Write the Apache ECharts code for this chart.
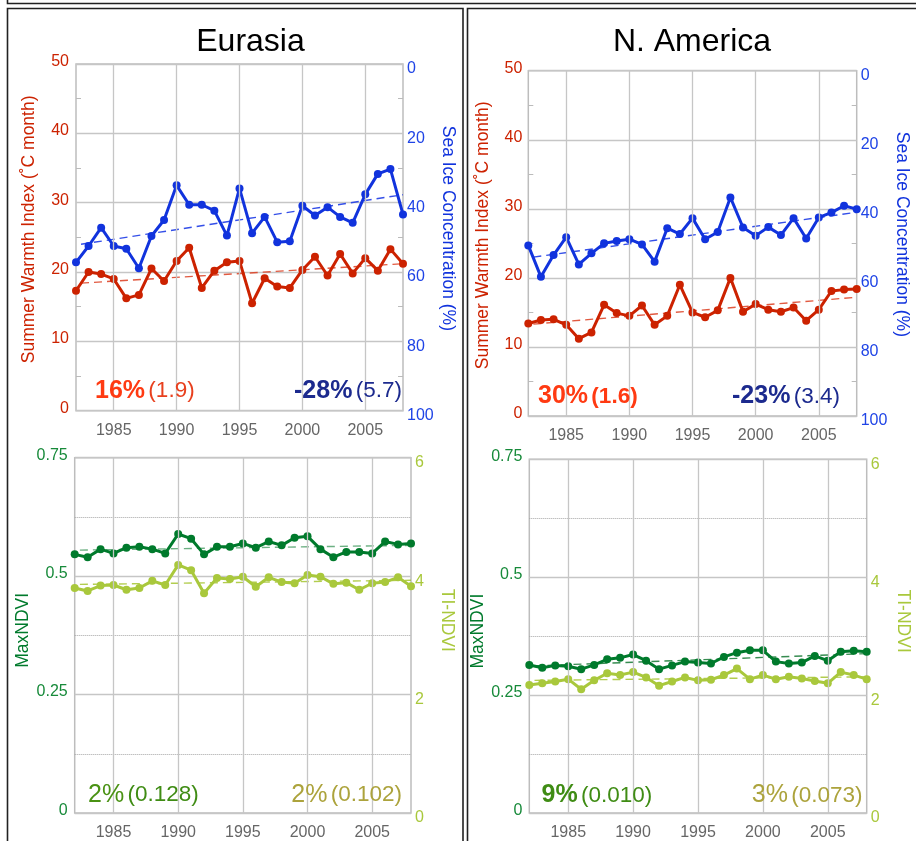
<!DOCTYPE html>
<html>
<head>
<meta charset="utf-8">
<script src="https://cdn.jsdelivr.net/npm/echarts@6/dist/echarts.min.js"></script>
<style>
  html, body { margin: 0; padding: 0; background: #fff; }
  #chart { width: 916px; height: 841px; }
</style>
</head>
<body>
<div id="chart"></div>
<script>
// Years covered by every series
const years = [1982, 1983, 1984, 1985, 1986, 1987, 1988, 1989, 1990, 1991, 1992, 1993, 1994,
               1995, 1996, 1997, 1998, 1999, 2000, 2001, 2002, 2003, 2004, 2005, 2006, 2007, 2008];
// Labelled years / vertical grid lines
const yearLabels = [1985, 1990, 1995, 2000, 2005];

// Summer Warmth Index (°C month)
const euSwi = [17.3, 20.0, 19.7, 19.0, 16.2, 16.7, 20.5, 18.7, 21.6, 23.5, 17.7, 20.2, 21.4,
               21.6, 15.5, 19.1, 17.9, 17.7, 20.3, 22.2, 19.5, 22.6, 19.8, 22.0, 20.2, 23.3, 21.2];
const naSwi = [13.4, 13.9, 14.0, 13.2, 11.2, 12.1, 16.1, 14.9, 14.5, 16.0, 13.2, 14.5, 19.0,
               15.0, 14.3, 15.3, 20.0, 15.1, 16.2, 15.4, 15.1, 15.7, 13.8, 15.4, 18.1, 18.3, 18.4];
// Sea ice concentration (%)
const euIce = [57.2, 52.5, 47.2, 52.5, 53.3, 58.9, 49.6, 45.0, 35.0, 40.6, 40.6, 42.3, 49.5,
               35.9, 48.8, 44.1, 51.4, 51.1, 40.9, 43.7, 41.3, 44.1, 45.8, 37.6, 31.7, 30.3, 43.4];
const naIce = [50.6, 59.7, 53.4, 48.2, 56.1, 52.9, 50.0, 49.3, 48.8, 50.3, 55.3, 45.6, 47.3,
               42.7, 48.8, 46.7, 36.7, 45.4, 47.8, 45.3, 47.6, 42.7, 48.6, 42.5, 41.1, 39.1, 40.1];
// MaxNDVI
const euMaxNdvi = [0.546, 0.540, 0.557, 0.548, 0.560, 0.562, 0.557, 0.548, 0.589, 0.579, 0.546, 0.562, 0.562,
                   0.569, 0.560, 0.573, 0.565, 0.581, 0.584, 0.557, 0.540, 0.551, 0.551, 0.548, 0.573, 0.567, 0.569];
const naMaxNdvi = [0.314, 0.308, 0.313, 0.311, 0.305, 0.314, 0.326, 0.329, 0.336, 0.323, 0.305, 0.313, 0.321,
                   0.319, 0.317, 0.331, 0.340, 0.345, 0.345, 0.321, 0.317, 0.319, 0.333, 0.323, 0.342, 0.344, 0.342];
// TI-NDVI
const euTiNdvi = [3.80, 3.75, 3.84, 3.85, 3.77, 3.80, 3.92, 3.85, 4.19, 4.10, 3.71, 3.97, 3.95,
                  3.99, 3.82, 3.98, 3.90, 3.88, 4.02, 3.99, 3.87, 3.89, 3.77, 3.88, 3.90, 3.98, 3.83];
const naTiNdvi = [2.17, 2.20, 2.23, 2.27, 2.10, 2.25, 2.37, 2.34, 2.39, 2.30, 2.16, 2.23, 2.30,
                  2.25, 2.26, 2.34, 2.45, 2.27, 2.34, 2.27, 2.31, 2.28, 2.24, 2.20, 2.39, 2.34, 2.27];

// Linear trend end points (start year, end year) and values
const trendYears = [1982.4, 2008];
const euSwiTrend = [18.4, 21.2];
const euIceTrend = [52.0, 37.7];
const naSwiTrend = [13.3, 17.2];
const naIceTrend = [54.0, 41.0];
const euMaxTrend = [0.555, 0.565];
const euTiTrend = [3.86, 3.93];
const naMaxTrend = [0.312, 0.338];
const naTiTrend = [2.25, 2.31];

// Relative change and (standard deviation) texts
const euSwiChange = ['16%', '(1.9)'];
const euIceChange = ['-28%', '(5.7)'];
const naSwiChange = ['30%', '(1.6)'];
const naIceChange = ['-23%', '(3.4)'];
const euMaxChange = ['2%', '(0.128)'];
const euTiChange = ['2%', '(0.102)'];
const naMaxChange = ['9%', '(0.010)'];
const naTiChange = ['3%', '(0.073)'];

const panelTitles = ['Eurasia', 'N. America'];

const FONT = '"Liberation Sans", Arial, Helvetica, sans-serif';
const RED = '#cc2200', BLUE = '#1133dd', DKGREEN = '#007a2c', LTGREEN = '#a9c83c';
const GRID_GRAY = '#c6c6c6';

const pairs = (vals) => years.map((y, i) => [y, vals[i]]);
const trend = (vals) => trendYears.map((y, i) => [y, vals[i]]);

const grids = [
  { left: 76, top: 64, width: 327, height: 346.7 },
  { left: 528.3, top: 70.7, width: 328.4, height: 345.3 },
  { left: 74.7, top: 457.7, width: 336.3, height: 355.6 },
  { left: 529.3, top: 459.3, width: 337.4, height: 356.4 }
];

const xAxes = grids.map((g, i) => ({
  gridIndex: i, type: 'value', min: 1982, max: 2008,
  axisLine: { show: false }, axisTick: { show: false }, splitLine: { show: false },
  axisLabel: { customValues: yearLabels, formatter: v => String(v), color: '#666', fontSize: 16, fontFamily: FONT, margin: 12 }
}));

// tick labels sit a little above (left) or below (right) their grid line
const upLabel = { up: { padding: [0, 0, 5, 0] } };
const downLabel = { dn: { padding: [10, 0, 0, 0] } };

function leftAxis(i, cfg) {
  return {
    gridIndex: i, type: 'value', position: 'left', min: 0, max: cfg.max, interval: cfg.interval,
    name: cfg.name, nameLocation: 'middle', nameGap: cfg.nameGap,
    nameTextStyle: { color: cfg.color, fontSize: 17.5, fontFamily: FONT, padding: cfg.namePad },
    axisLine: { show: false },
    axisTick: { show: false, inside: true },
    minorTick: { show: cfg.minorTick, splitNumber: 2, length: 5, lineStyle: { color: '#bbb' } },
    splitLine: { show: true, lineStyle: { color: GRID_GRAY, width: 1.3 } },
    minorSplitLine: { show: cfg.dotted, lineStyle: { color: '#a5a5a5', type: [1, 1], width: 1 } },
    axisLabel: { color: cfg.labelColor, fontSize: 16, fontFamily: FONT, margin: cfg.margin,
                 formatter: v => '{up|' + v + '}', rich: upLabel }
  };
}
function rightAxis(i, cfg) {
  return {
    gridIndex: i, type: 'value', position: 'right', min: 0, max: cfg.max, interval: cfg.interval,
    inverse: !!cfg.inverse,
    name: cfg.name, nameLocation: 'middle', nameGap: cfg.nameGap, nameRotate: -90,
    nameTextStyle: { color: cfg.color, fontSize: 17.5, fontFamily: FONT, padding: cfg.namePad },
    axisLine: { show: false },
    axisTick: { show: false, inside: true },
    minorTick: { show: cfg.minorTick, splitNumber: 2, length: 5, lineStyle: { color: '#bbb' } },
    splitLine: { show: false },
    axisLabel: { color: cfg.labelColor, fontSize: 16, fontFamily: FONT, margin: 4,
                 formatter: v => '{dn|' + v + '}', rich: downLabel }
  };
}

const yAxes = [
  leftAxis(0, { max: 50, interval: 10, name: 'Summer Warmth Index (˚C month)', nameGap: 38, namePad: [0, 0, 0, 16],
                color: RED, labelColor: RED, margin: 7, minorTick: true, dotted: false }),
  rightAxis(0, { max: 100, interval: 20, inverse: true, name: 'Sea Ice Concentration (%)', nameGap: 36, namePad: [0, 18, 0, 0],
                 color: BLUE, labelColor: '#1f44e6', minorTick: true }),
  leftAxis(1, { max: 50, interval: 10, name: 'Summer Warmth Index (˚C month)', nameGap: 36, namePad: [0, 0, 0, 16],
                color: RED, labelColor: RED, margin: 6, minorTick: true, dotted: false }),
  rightAxis(1, { max: 100, interval: 20, inverse: true, name: 'Sea Ice Concentration (%)', nameGap: 36, namePad: [0, 18, 0, 0],
                 color: BLUE, labelColor: '#1f44e6', minorTick: true }),
  leftAxis(2, { max: 0.75, interval: 0.25, name: 'MaxNDVI', nameGap: 30, namePad: [0, 0, 0, 10],
                color: DKGREEN, labelColor: '#178a3a', margin: 7, minorTick: false, dotted: true }),
  rightAxis(2, { max: 6, interval: 2, name: 'TI-NDVI', nameGap: 27, namePad: [0, 30, 0, 0],
                 color: LTGREEN, labelColor: LTGREEN, minorTick: false }),
  leftAxis(3, { max: 0.75, interval: 0.25, name: 'MaxNDVI', nameGap: 30, namePad: [0, 0, 0, 10],
                color: DKGREEN, labelColor: '#178a3a', margin: 7, minorTick: false, dotted: true }),
  rightAxis(3, { max: 6, interval: 2, name: 'TI-NDVI', nameGap: 27, namePad: [0, 30, 0, 0],
                 color: LTGREEN, labelColor: LTGREEN, minorTick: false })
];

function dataLine(gi, yi, vals, color) {
  return {
    type: 'line', xAxisIndex: gi, yAxisIndex: yi, data: pairs(vals), z: 4,
    symbol: 'circle', symbolSize: 8, showSymbol: true,
    lineStyle: { color: color, width: 3 }, itemStyle: { color: color }
  };
}
function trendLine(gi, yi, vals, color, withGrid) {
  const s = {
    type: 'line', xAxisIndex: gi, yAxisIndex: yi, data: trend(vals), z: 3,
    symbol: 'none', lineStyle: { color: color, width: 1.4, type: [8, 5] }
  };
  if (withGrid) {
    // vertical grid lines at the labelled years
    s.markLine = {
      silent: true, symbol: 'none', label: { show: false }, animation: false,
      lineStyle: { color: GRID_GRAY, width: 1.3, type: 'solid' },
      emphasis: { disabled: true },
      data: yearLabels.map(y => ({ xAxis: y }))
    };
  }
  return s;
}

const series = [
  trendLine(0, 0, euSwiTrend, 'rgba(220,60,30,0.85)', true),
  trendLine(0, 1, euIceTrend, 'rgba(30,60,230,0.9)', false),
  dataLine(0, 0, euSwi, RED),
  dataLine(0, 1, euIce, BLUE),

  trendLine(1, 2, naSwiTrend, 'rgba(220,60,30,0.85)', true),
  trendLine(1, 3, naIceTrend, 'rgba(30,60,230,0.9)', false),
  dataLine(1, 2, naSwi, RED),
  dataLine(1, 3, naIce, BLUE),

  trendLine(2, 4, euMaxTrend, 'rgba(60,150,90,0.75)', true),
  trendLine(2, 5, euTiTrend, 'rgba(170,200,60,0.9)', false),
  dataLine(2, 4, euMaxNdvi, DKGREEN),
  dataLine(2, 5, euTiNdvi, LTGREEN),

  trendLine(3, 6, naMaxTrend, 'rgba(20,120,50,0.85)', true),
  trendLine(3, 7, naTiTrend, 'rgba(170,200,60,0.9)', false),
  dataLine(3, 6, naMaxNdvi, DKGREEN),
  dataLine(3, 7, naTiNdvi, LTGREEN)
];

function changeText(x, y, align, pair, c1, c2, bold1, bold2) {
  return {
    type: 'text', x: x, y: y, z: 10,
    style: {
      text: '{a|' + pair[0] + '} {b|' + pair[1] + '}',
      align: align, verticalAlign: 'middle',
      rich: {
        a: { fontSize: 25, fontWeight: bold1 ? 'bold' : 'normal', fill: c1, fontFamily: FONT },
        b: { fontSize: 22.5, fontWeight: bold2 ? 'bold' : 'normal', fill: c2, fontFamily: FONT }
      }
    }
  };
}

const frame = { fill: 'none', stroke: '#222', lineWidth: 1.6 };
const graphic = [
  { type: 'rect', shape: { x: 7.5, y: -100, width: 1000, height: 103.5 }, style: frame, z: 0 },
  { type: 'rect', shape: { x: 7.5, y: 8.5, width: 455.5, height: 900 }, style: frame, z: 0 },
  { type: 'rect', shape: { x: 467.5, y: 8.5, width: 500, height: 900 }, style: frame, z: 0 },
  { type: 'text', x: 250.5, y: 42, z: 10, style: { text: panelTitles[0], align: 'center', verticalAlign: 'middle', fontSize: 32, fontFamily: FONT, fill: '#000' } },
  { type: 'text', x: 692, y: 42, z: 10, style: { text: panelTitles[1], align: 'center', verticalAlign: 'middle', fontSize: 32, fontFamily: FONT, fill: '#000' } },
  changeText(95, 391, 'left', euSwiChange, '#ff3a12', '#e8401e', true, false),
  changeText(402, 391, 'right', euIceChange, '#1c2a8e', '#1c2a8e', true, false),
  changeText(538, 396.5, 'left', naSwiChange, '#ff3a12', '#ff3a12', true, true),
  changeText(840, 396.5, 'right', naIceChange, '#1c2a8e', '#1c2a8e', true, false),
  changeText(88, 795, 'left', euMaxChange, '#4a9214', '#3f8c14', false, false),
  changeText(402, 795, 'right', euTiChange, '#aca33c', '#aca33c', false, false),
  changeText(541.5, 795.5, 'left', naMaxChange, '#3f8c14', '#3f8c14', true, false),
  changeText(862.5, 795.5, 'right', naTiChange, '#aca33c', '#aca33c', false, false)
];

const chart = echarts.init(document.getElementById('chart'), null, { renderer: 'canvas' });
chart.setOption({
  animation: false,
  backgroundColor: '#fff',
  textStyle: { fontFamily: FONT },
  grid: grids.map(g => Object.assign({ show: true, borderColor: '#bdbdbd', borderWidth: 1.5, backgroundColor: 'transparent' }, g)),
  xAxis: xAxes,
  yAxis: yAxes,
  series: series,
  graphic: graphic
});
</script>
</body>
</html>
